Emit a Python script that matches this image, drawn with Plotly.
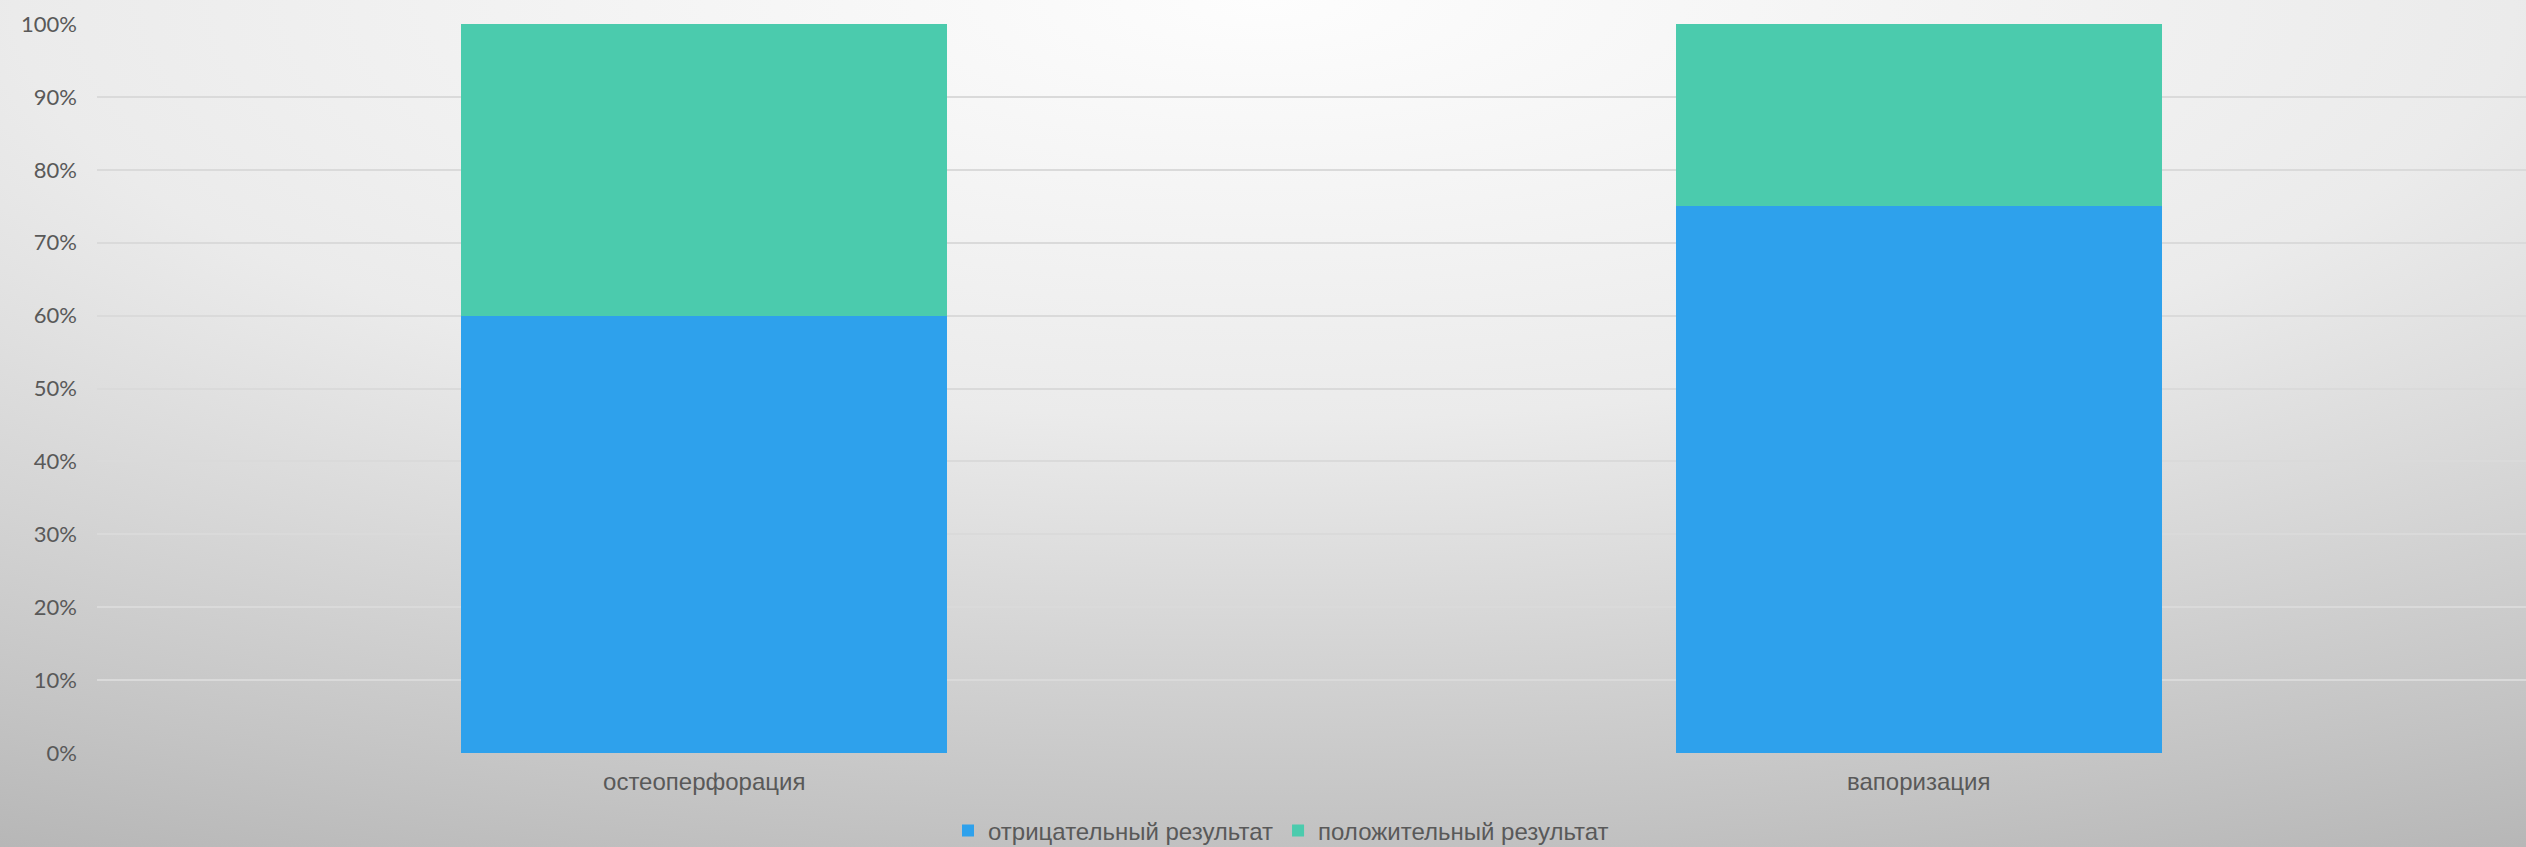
import base64
import plotly.graph_objects as go

categories = ["остеоперфорация", "вапоризация"]
negative = [0.60, 0.75]
positive = [0.40, 0.25]
series_names = ["отрицательный результат", "положительный результат"]
y_ticks = [0, 0.1, 0.2, 0.3, 0.4, 0.5, 0.6, 0.7, 0.8, 0.9, 1.0]

W, H = 2526, 847
L, R, T, B = 97, 0, 24, 94
pw, ph = W - L - R, H - T - B

svg = f'''<svg xmlns="http://www.w3.org/2000/svg" width="{W}" height="{H}" preserveAspectRatio="none" viewBox="0 0 {W} {H}">
<defs><radialGradient id="g" cx="0.5" cy="0" r="1.15" gradientUnits="objectBoundingBox">
<stop offset="0" stop-color="#fdfdfd"/>
<stop offset="0.43" stop-color="#ebebeb"/>
<stop offset="0.65" stop-color="#d6d6d6"/>
<stop offset="0.85" stop-color="#c3c3c3"/>
<stop offset="1" stop-color="#b4b4b4"/>
</radialGradient></defs>
<rect x="0" y="0" width="{W}" height="{H}" fill="url(#g)"/>
</svg>'''
src = "data:image/svg+xml;base64," + base64.b64encode(svg.encode()).decode()

fig = go.Figure()
fig.add_trace(go.Bar(x=categories, y=negative, name=series_names[0],
                     marker=dict(color="#2ea1ec", line=dict(width=0))))
fig.add_trace(go.Bar(x=categories, y=positive, name=series_names[1],
                     marker=dict(color="#4bcbad", line=dict(width=0))))

fig.update_layout(
    width=W, height=H,
    margin=dict(l=L, r=R, t=T, b=B, autoexpand=False),
    barmode="stack", bargap=0.6,
    paper_bgcolor="#d8d8d8", plot_bgcolor="rgba(0,0,0,0)",
    images=[dict(source=src, xref="paper", yref="paper",
                 x=-L / pw, y=1 + T / ph, sizex=W / pw, sizey=H / ph,
                 xanchor="left", yanchor="top", sizing="stretch", layer="below")],
    showlegend=True,
    legend=dict(orientation="h", x=(1281 - L) / pw, xanchor="center",
                y=(T + ph - 831) / ph, yanchor="middle",
                font=dict(family="Liberation Sans, Arial", size=24, color="#595959"),
                bgcolor="rgba(0,0,0,0)", traceorder="normal",
                borderwidth=0, tracegroupgap=0),
    xaxis=dict(showgrid=False, zeroline=False, showline=False, ticks="",
               tickfont=dict(family="Liberation Sans, Arial", size=24, color="#595959"),
               ticklabelstandoff=12),
    yaxis=dict(range=[0, 1], tickvals=y_ticks, tickformat=".0%",
               showgrid=True, gridcolor="#dadada", gridwidth=2,
               zeroline=False, showline=False, ticks="",
               tickfont=dict(family="Lato, Century Gothic", size=22, color="#595959"),
               ticklabelstandoff=19),
    hovermode=False,
)

fig.write_html("out.html", include_plotlyjs=True,
               config={"displayModeBar": False, "staticPlot": True},
               post_script="document.body.style.margin='0';")
